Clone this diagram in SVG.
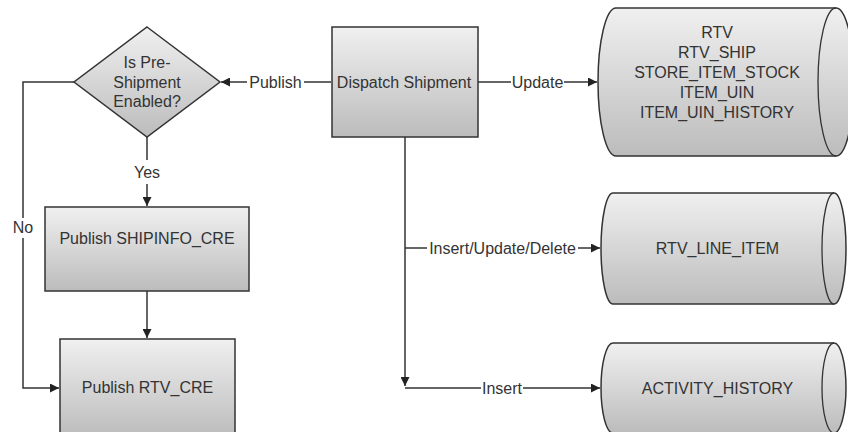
<svg xmlns="http://www.w3.org/2000/svg" width="848" height="432" viewBox="0 0 848 432">
<defs>
<linearGradient id="g" x1="0" y1="0" x2="0" y2="1">
<stop offset="0" stop-color="#f0f0f0"/>
<stop offset="1" stop-color="#bcbcbc"/>
</linearGradient>
<marker id="arr" viewBox="0 0 10 10" refX="10" refY="5" markerWidth="9" markerHeight="9" markerUnits="userSpaceOnUse" orient="auto">
<path d="M0,0 L10,5 L0,10 Z" fill="#222"/>
</marker>
<style>
.shape{fill:url(#g);stroke:#333;stroke-width:1.5}
.inner{fill:none;stroke:#333;stroke-width:1.3}
.t{font-family:"Liberation Sans",Arial,sans-serif;font-size:16px;fill:#333;text-anchor:middle}
.l{font-family:"Liberation Sans",Arial,sans-serif;font-size:16px;fill:#333;text-anchor:middle}
.c{fill:none;stroke:#333;stroke-width:1.5}
</style>
</defs>
<rect width="848" height="432" fill="#fff"/>

<g id="connectors">
<path class="c" d="M331,82 H304"/>
<path class="c" d="M247,82 H221" marker-end="url(#arr)"/>
<text class="l" x="275.5" y="87.5">Publish</text>

<path class="c" d="M478,82 H511"/>
<path class="c" d="M564,82 H597" marker-end="url(#arr)"/>
<text class="l" x="537.5" y="87.5">Update</text>

<path class="c" d="M147,137 V160"/>
<path class="c" d="M147,184 V206" marker-end="url(#arr)"/>
<text class="l" x="147" y="177.5">Yes</text>

<path class="c" d="M74,82 H23 V218"/>
<path class="c" d="M23,238 V388 H59" marker-end="url(#arr)"/>
<text class="l" x="23" y="232.5">No</text>

<path class="c" d="M147,291 V338" marker-end="url(#arr)"/>

<path class="c" d="M405,137 V386" marker-end="url(#arr)"/>
<path class="c" d="M405,388 H481"/>
<path class="c" d="M523,388 H600" marker-end="url(#arr)"/>
<text class="l" x="502" y="393.5">Insert</text>

<path class="c" d="M405,248 H427"/>
<path class="c" d="M578,248 H600" marker-end="url(#arr)"/>
<text class="l" x="502.5" y="253.5">Insert/Update/Delete</text>
</g>

<g id="decision">
<path class="shape" d="M147,27 L220,82 L147,137 L74,82 Z"/>
<text class="t" x="147" y="67.5">Is Pre-</text>
<text class="t" x="147" y="87.5">Shipment</text>
<text class="t" x="147" y="106.5">Enabled?</text>
</g>

<g id="dispatch">
<rect class="shape" x="332" y="27" width="146" height="110"/>
<text class="t" x="404" y="87.5">Dispatch Shipment</text>
</g>

<g id="shipinfo">
<rect class="shape" x="45" y="207" width="204" height="84"/>
<text class="t" x="147" y="243.5">Publish SHIPINFO_CRE</text>
</g>

<g id="rtvcre">
<rect class="shape" x="60" y="339" width="175" height="98"/>
<text class="t" x="147.5" y="392.5">Publish RTV_CRE</text>
</g>

<g id="db1">
<path class="shape" d="M616,8 H836 A18,74 0 0 1 836,156 H616 A18,74 0 0 1 616,8 Z"/>
<path class="inner" d="M836,8 A18,74 0 0 0 836,156"/>
<text class="t" x="717" y="37.5">RTV</text>
<text class="t" x="717" y="57.5">RTV_SHIP</text>
<text class="t" x="717" y="77.5">STORE_ITEM_STOCK</text>
<text class="t" x="717" y="97.5">ITEM_UIN</text>
<text class="t" x="717" y="117.5">ITEM_UIN_HISTORY</text>
</g>

<g id="db2">
<path class="shape" d="M613,193 H834 A12,55.5 0 0 1 834,304 H613 A12,55.5 0 0 1 613,193 Z"/>
<path class="inner" d="M834,193 A12,55.5 0 0 0 834,304"/>
<text class="t" x="717.5" y="253.5">RTV_LINE_ITEM</text>
</g>

<g id="db3">
<path class="shape" d="M613,343 H834 A12,45 0 0 1 834,433 H613 A12,45 0 0 1 613,343 Z"/>
<path class="inner" d="M834,343 A12,45 0 0 0 834,433"/>
<text class="t" x="717.5" y="393.5">ACTIVITY_HISTORY</text>
</g>
</svg>
